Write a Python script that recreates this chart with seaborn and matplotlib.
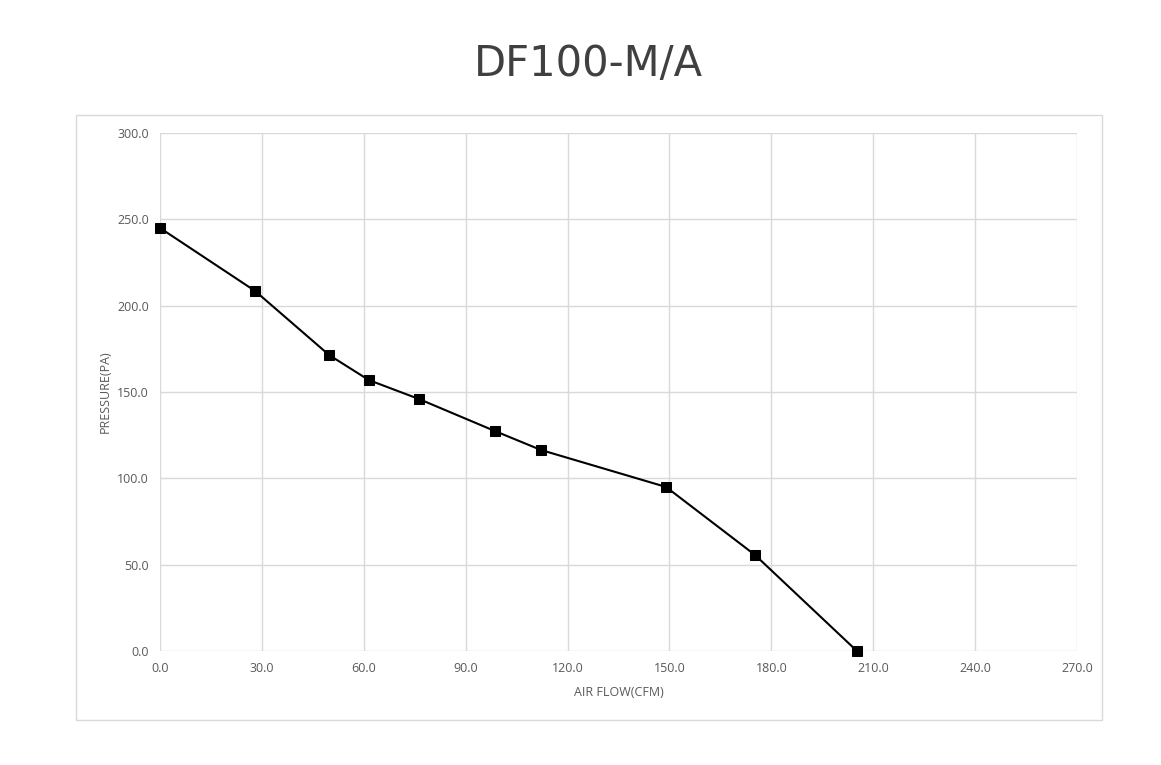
import matplotlib
matplotlib.use('Agg')
import matplotlib.pyplot as plt
import seaborn as sns
import pandas as pd
from matplotlib.patches import Rectangle

# Fan curve values
air_flow = [0.0, 28.0, 49.8, 61.5, 76.3, 98.6, 112.2, 149.0, 175.2, 205.2]
pressure = [245.0, 208.5, 171.4, 156.9, 145.9, 127.4, 116.4, 95.0, 55.6, 0.0]
x_ticks = [0, 30, 60, 90, 120, 150, 180, 210, 240, 270]
y_ticks = [0, 50, 100, 150, 200, 250, 300]

data = pd.DataFrame({'air_flow': air_flow, 'pressure': pressure})

sns.set_style('white')
plt.rcParams['font.family'] = ['Open Sans', 'DejaVu Sans']

fig = plt.figure(figsize=(11.61, 7.65), dpi=100)
ax = fig.add_axes([160 / 1161, 1 - 651 / 765, (1077 - 160) / 1161, (651 - 133) / 765])

# outer chart frame
fig.patches.append(Rectangle((76 / 1161, 1 - 720 / 765), (1102 - 76) / 1161, (720 - 115) / 765,
                             transform=fig.transFigure, fill=False, edgecolor='#d9d9d9', linewidth=1))

sns.lineplot(data=data, x='air_flow', y='pressure', ax=ax, color='black', linewidth=1.5,
             marker='s', markersize=7, markeredgecolor='black', markerfacecolor='black',
             sort=False, clip_on=False)

ax.set_xlim(0, 270)
ax.set_ylim(0, 300)
ax.set_xticks(x_ticks)
ax.set_yticks(y_ticks)
ax.set_xticklabels([f'{v:.1f}' for v in x_ticks])
ax.set_yticklabels([f'{v:.1f}' for v in y_ticks])
ax.grid(True, color='#d9d9d9', linewidth=1)
for s in ax.spines.values():
    s.set_visible(False)
ax.tick_params(axis='both', length=0, labelsize=9, labelcolor='#595959', pad=8)

ax.set_xlabel('AIR FLOW(CFM)', fontsize=9, color='#595959', labelpad=8)
ax.set_ylabel('PRESSURE(PA)', fontsize=9, color='#595959', labelpad=4)

fig.text(588 / 1161, 1 - 64 / 765, 'DF100-M/A', ha='center', va='center',
         fontsize=30, color='#404040', family='DejaVu Sans')

fig.savefig('out.png', dpi=100, facecolor='white')
